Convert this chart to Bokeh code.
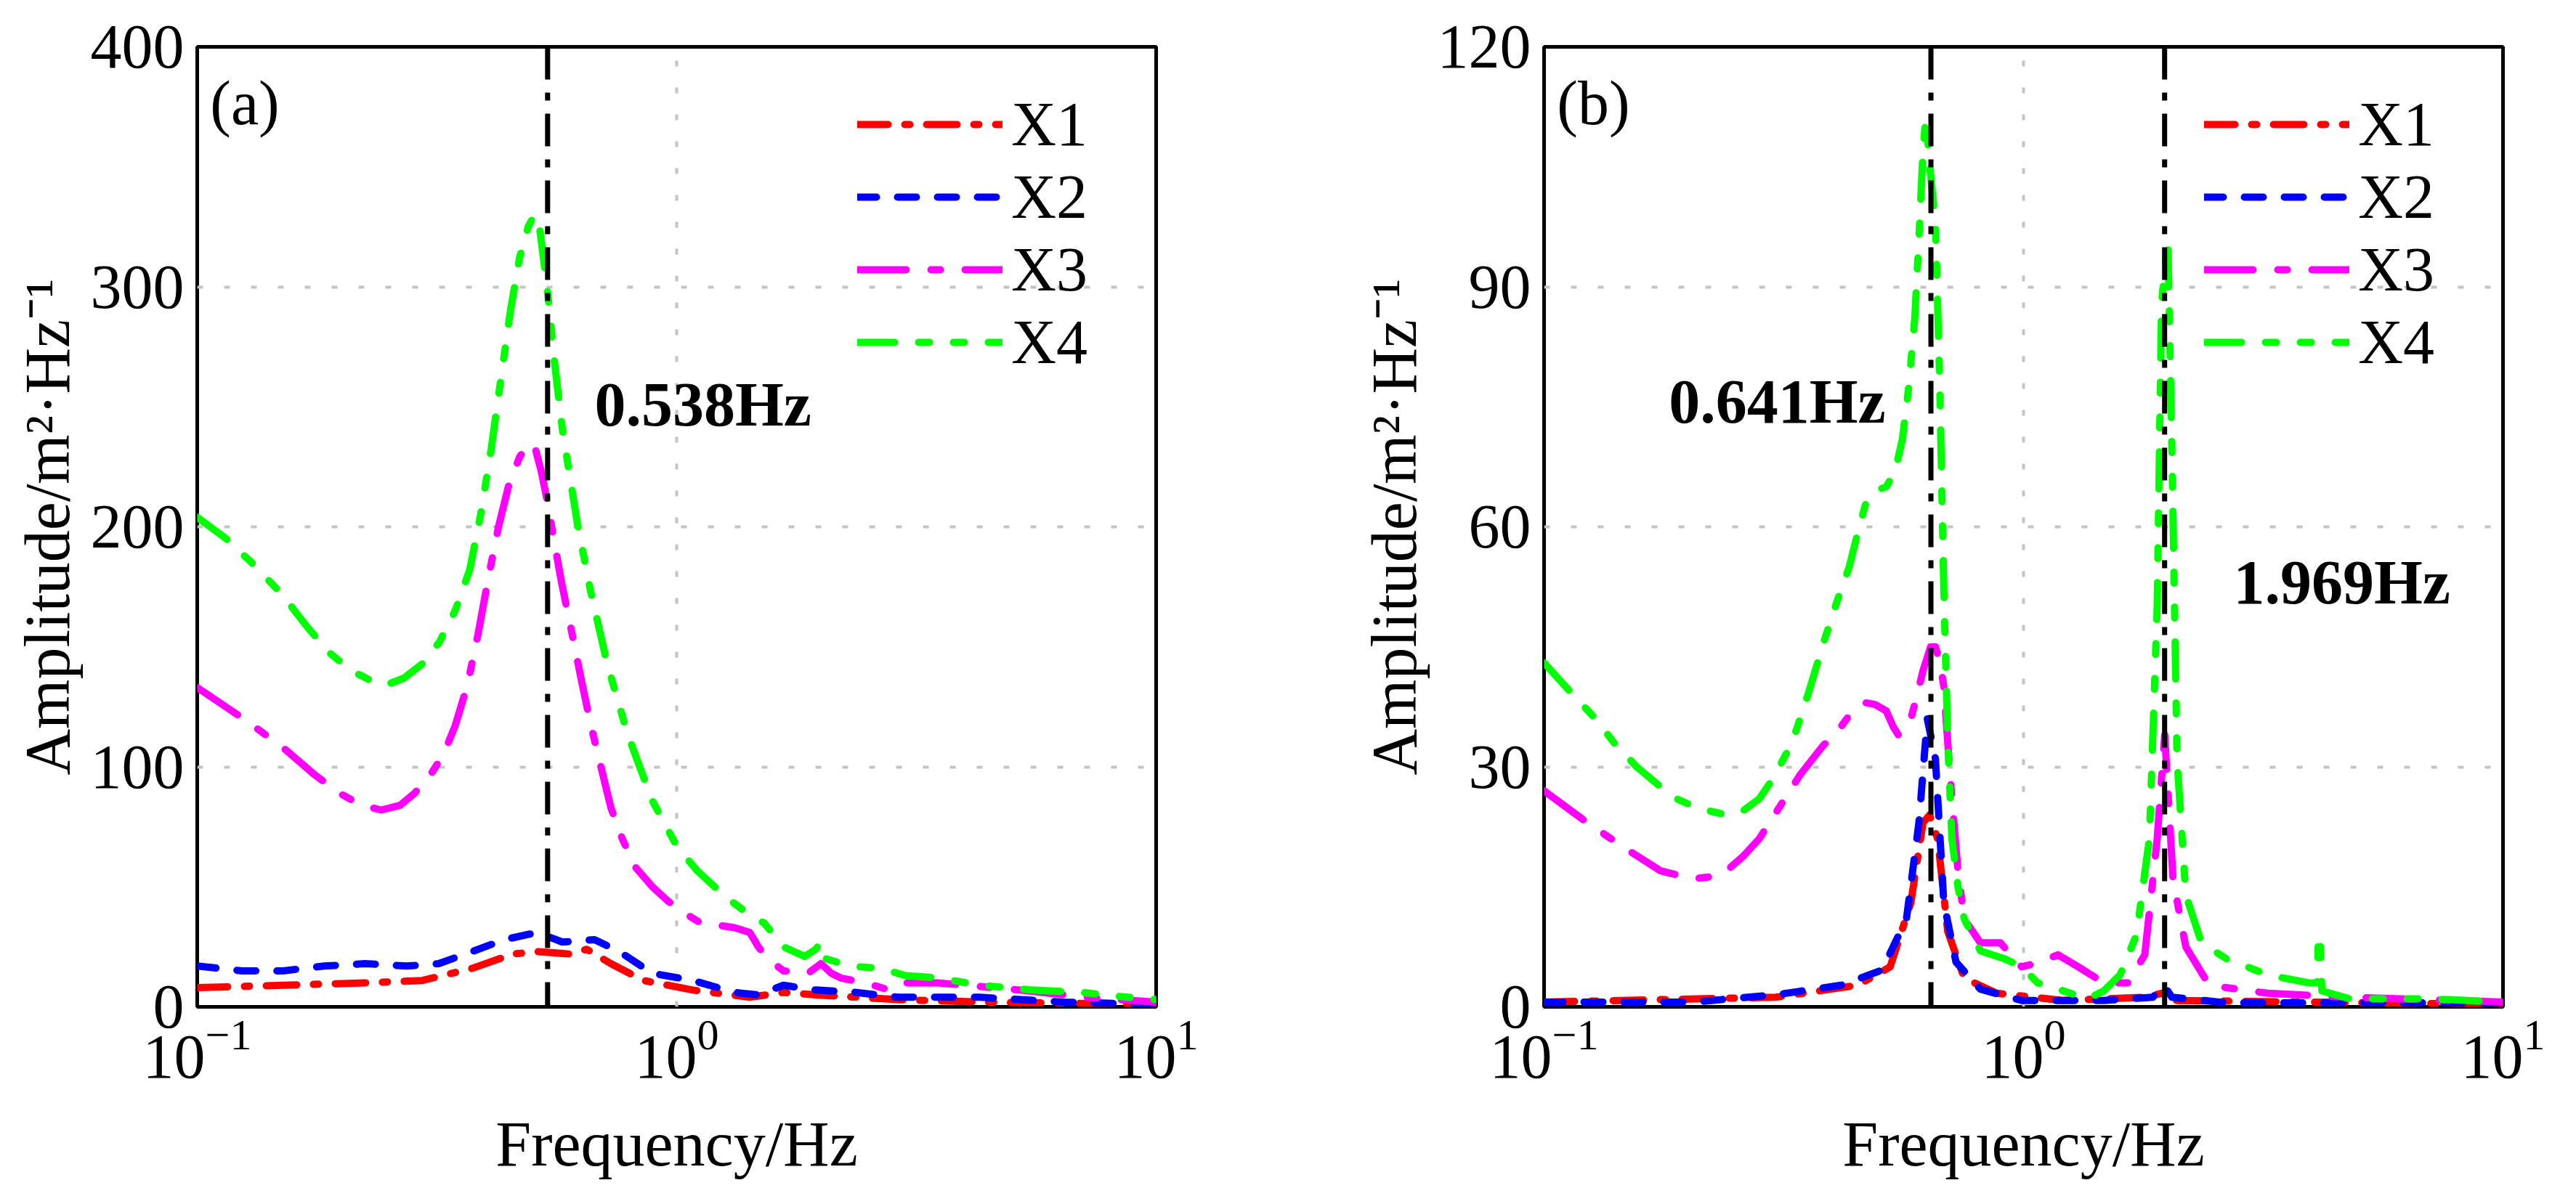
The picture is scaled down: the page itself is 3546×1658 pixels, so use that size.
from bokeh.plotting import figure
from bokeh.layouts import row
from bokeh.models import Span, Label, FixedTicker
from bokeh.embed import file_html
from bokeh.resources import INLINE

FONT = "Liberation Serif"

# ---- panel (a) data ----
a_x1_f = [0.1, 0.151, 0.224, 0.295, 0.374, 0.455, 0.512, 0.600, 0.649, 0.729, 0.852, 1.08, 1.42, 1.67, 1.95, 2.89, 4.29, 10]
a_x1_v = [8, 9, 10, 11, 16, 22, 23, 22, 24, 18, 11, 7, 4, 6, 5, 3, 2, 1]

a_x2_f = [0.1, 0.124, 0.151, 0.184, 0.224, 0.273, 0.319, 0.374, 0.437, 0.512, 0.577, 0.674, 0.76, 0.889, 1.08, 1.32, 1.48, 1.67, 1.95, 2.37, 2.89, 4.29, 6.35, 10]
a_x2_v = [17, 15, 15, 17, 18, 17, 18, 23, 28, 31, 27, 28, 23, 14, 11, 6, 5, 9, 7, 6, 4, 4, 2, 1]

a_x3_f = [0.1, 0.125, 0.151, 0.175, 0.198, 0.22, 0.242, 0.265, 0.284, 0.305, 0.326, 0.345, 0.366, 0.385, 0.405, 0.425, 0.446, 0.47, 0.493, 0.508, 0.522, 0.538, 0.554, 0.575, 0.600, 0.63, 0.661, 0.695, 0.729, 0.77, 0.822, 0.89, 0.96, 1.04, 1.12, 1.32, 1.42, 1.48, 1.55, 1.67, 1.88, 2.0, 2.1, 2.2, 2.47, 2.78, 3.0, 3.5, 5.2, 7.1, 10]
a_x3_v = [133, 120, 108, 97, 89, 84, 82, 84, 89, 96, 105, 117, 134, 155, 179, 200, 217, 229, 235, 232, 223, 210, 195, 177, 159, 138, 118, 100, 83, 70, 58, 50, 44, 39, 35, 33, 31, 25, 20, 15, 14, 18, 14, 12, 10, 7, 10, 10, 7, 4, 2]

a_x4_f = [0.1, 0.115, 0.13, 0.15, 0.17, 0.19, 0.21, 0.23, 0.247, 0.27, 0.295, 0.32, 0.345, 0.37, 0.39, 0.41, 0.43, 0.45, 0.47, 0.49, 0.505, 0.515, 0.525, 0.54, 0.555, 0.578, 0.62, 0.66, 0.716, 0.789, 0.889, 1.0, 1.1, 1.2, 1.32, 1.45, 1.52, 1.58, 1.67, 1.85, 1.95, 2.0, 2.05, 2.3, 2.67, 3.0, 3.52, 4.29, 5.5, 7.0, 8.71, 10]
a_x4_v = [204, 195, 185, 172, 158, 147, 140, 136, 134, 137, 143, 152, 165, 182, 205, 232, 262, 290, 312, 325, 330, 328, 315, 295, 270, 240, 202, 174, 143, 114, 86, 67, 57, 50, 43, 37, 35, 31, 25, 21, 24, 27, 20, 17, 16, 13, 12, 9, 7, 6, 4, 3]

# ---- panel (b) data ----
b_x1_f = [0.1, 0.304, 0.451, 0.527, 0.582, 0.617, 0.637, 0.662, 0.695, 0.752, 0.879, 1.21, 1.79, 1.94, 2.05, 10]
b_x1_v = [0.6, 1.2, 2.7, 5, 13, 23, 24, 21, 9.4, 3.6, 1.7, 0.8, 1.2, 1.7, 0.8, 0.3]

b_x2_f = [0.1, 0.205, 0.304, 0.416, 0.507, 0.570, 0.605, 0.630, 0.655, 0.682, 0.723, 0.813, 0.991, 1.47, 1.86, 1.96, 2.04, 2.65, 10]
b_x2_v = [0.6, 0.6, 1.5, 2.7, 4.6, 11, 23, 36, 31, 13, 5.6, 2.2, 0.8, 0.8, 1.2, 2.7, 1.2, 0.5, 0.5]

b_x3_f = [0.1, 0.12, 0.138, 0.155, 0.175, 0.205, 0.225, 0.240, 0.26, 0.281, 0.31, 0.342, 0.38, 0.416, 0.44, 0.469, 0.49, 0.517, 0.535, 0.548, 0.565, 0.582, 0.60, 0.617, 0.64, 0.655, 0.67, 0.682, 0.695, 0.709, 0.73, 0.752, 0.813, 0.895, 0.991, 1.07, 1.18, 1.30, 1.47, 1.65, 1.79, 1.90, 1.97, 2.05, 2.18, 2.44, 3.23, 4.79, 10]
b_x3_v = [27, 23.5, 21, 19, 17, 16, 16.3, 17, 18.8, 21, 25, 29, 32.5, 35, 37, 38, 37.8, 37, 35, 34, 34.5, 36, 39, 42, 45, 45, 43, 40, 33, 26, 17, 11, 8, 8, 5, 5.5, 6.5, 5, 3, 3, 6.5, 21, 34, 16, 7.5, 2.7, 1.7, 1.2, 0.6]

b_x4_f = [0.1, 0.115, 0.128, 0.14, 0.156, 0.175, 0.189, 0.21, 0.24, 0.26, 0.281, 0.30, 0.329, 0.355, 0.385, 0.41, 0.433, 0.45, 0.469, 0.49, 0.517, 0.54, 0.559, 0.575, 0.593, 0.605, 0.617, 0.625, 0.632, 0.64, 0.655, 0.668, 0.682, 0.695, 0.709, 0.73, 0.752, 0.813, 0.914, 0.991, 1.07, 1.21, 1.36, 1.47, 1.59, 1.72, 1.83, 1.90, 1.94, 2.00, 2.04, 2.09, 2.18, 2.35, 2.65, 3.23, 3.93, 4.10, 4.12, 4.16, 4.19, 4.79, 7.10, 10]
b_x4_v = [43, 39, 36, 33, 30, 27.5, 26, 24.8, 24, 24.5, 26, 28.5, 33, 39, 46, 51, 55, 59, 63, 64.5, 65, 67, 71, 77, 86, 96, 107, 111, 108, 104, 98, 79, 52, 33, 21, 15, 11, 7, 6, 5, 3, 2, 1, 2, 4, 9, 21, 50, 88, 96, 69, 31, 14, 8, 6, 4, 3, 3, 9, 8, 2, 1, 1, 0.6]

names = ["X1", "X2", "X3", "X4"]
colors = ["#ff0000", "#0000ff", "#ff00ff", "#00ff00"]
dashes = ["42 23 7 23", "26 29", "67 34 13 34", "51 33 15 33 15 33"]

x_ticks = [0.1, 1, 10]

a_yticks = [0, 100, 200, 300, 400]
b_yticks = [0, 30, 60, 90, 120]

a_peaks = [0.538]
b_peaks = [0.641, 1.969]
a_notes = [("0.538Hz", 0.674, 251)]
b_notes = [("0.641Hz", 0.182, 75.7), ("1.969Hz", 2.74, 53.1)]


def make_panel(tag, yticks, series, peaks, notes, left, right):
    ymax = yticks[-1]
    p = figure(x_axis_type="log", x_range=(0.1, 10), y_range=(0, ymax),
               frame_width=1320, frame_height=1322,
               min_border_left=left, min_border_right=right,
               min_border_top=64, min_border_bottom=240,
               output_backend="svg", toolbar_location=None)
    p.outline_line_color = "black"
    p.outline_line_width = 5
    p.background_fill_color = "white"
    p.border_fill_color = "white"

    # log axis default formatter draws 10 with a raised exponent
    p.xaxis.ticker = FixedTicker(ticks=x_ticks, minor_ticks=[])
    p.yaxis.ticker = FixedTicker(ticks=yticks, minor_ticks=[])
    for ax in (p.xaxis, p.yaxis):
        ax.axis_line_color = None
        ax.major_tick_line_color = None
        ax.minor_tick_line_color = None
        ax.major_label_text_font = FONT
        ax.major_label_text_font_size = "86px"
        ax.major_label_text_color = "black"
        ax.axis_label_text_font = FONT
        ax.axis_label_text_font_size = "88px"
        ax.axis_label_text_font_style = "normal"
        ax.axis_label_text_color = "black"
        ax.major_label_standoff = 12
    p.xaxis.axis_label = "Frequency/Hz"
    p.yaxis.axis_label = "Amplitude/m\u00b2\u00b7Hz\u207b\u00b9"
    p.xaxis.axis_label_standoff = 40
    p.yaxis.axis_label_standoff = 8

    for g in (p.xgrid, p.ygrid):
        g.grid_line_color = "#c4c4c4"
        g.grid_line_width = 4
        g.grid_line_dash = "8 29"

    for (f, v), name, c, d in zip(series, names, colors, dashes):
        p.line(f, v, line_color=c, line_width=10, line_dash=d,
               line_cap="round", line_join="round", legend_label=name)

    for x in peaks:
        p.add_layout(Span(location=x, dimension="height", line_color="black",
                          line_width=7, line_dash="45 18 11 18"))

    for txt, x, y in notes:
        p.add_layout(Label(x=x, y=y, text=txt, text_font=FONT, text_font_size="86px",
                           text_font_style="bold", text_color="black",
                           text_baseline="alphabetic"))
    p.add_layout(Label(x=0.1064, y=ymax * 0.941, text=tag, text_font=FONT,
                       text_font_size="86px", text_color="black",
                       text_baseline="alphabetic"))

    lg = p.legend[0]
    # tuple location is the legend's bottom-left, in px from the frame's bottom-left
    lg.location = (909, 865)
    lg.border_line_color = None
    lg.background_fill_alpha = 0
    lg.padding = 0
    lg.margin = 0
    lg.spacing = 0
    lg.glyph_width = 200
    lg.glyph_height = 98
    lg.label_height = 98
    lg.label_standoff = 12
    lg.label_text_font = FONT
    lg.label_text_font_size = "86px"
    lg.label_text_color = "black"
    return p


pa = make_panel("(a)", a_yticks,
                [(a_x1_f, a_x1_v), (a_x2_f, a_x2_v), (a_x3_f, a_x3_v), (a_x4_f, a_x4_v)],
                a_peaks, a_notes, 271, 262)
pb = make_panel("(b)", b_yticks,
                [(b_x1_f, b_x1_v), (b_x2_f, b_x2_v), (b_x3_f, b_x3_v), (b_x4_f, b_x4_v)],
                b_peaks, b_notes, 272, 70)

layout = row(pa, pb)
open("out.html", "w").write(file_html(layout, INLINE))
